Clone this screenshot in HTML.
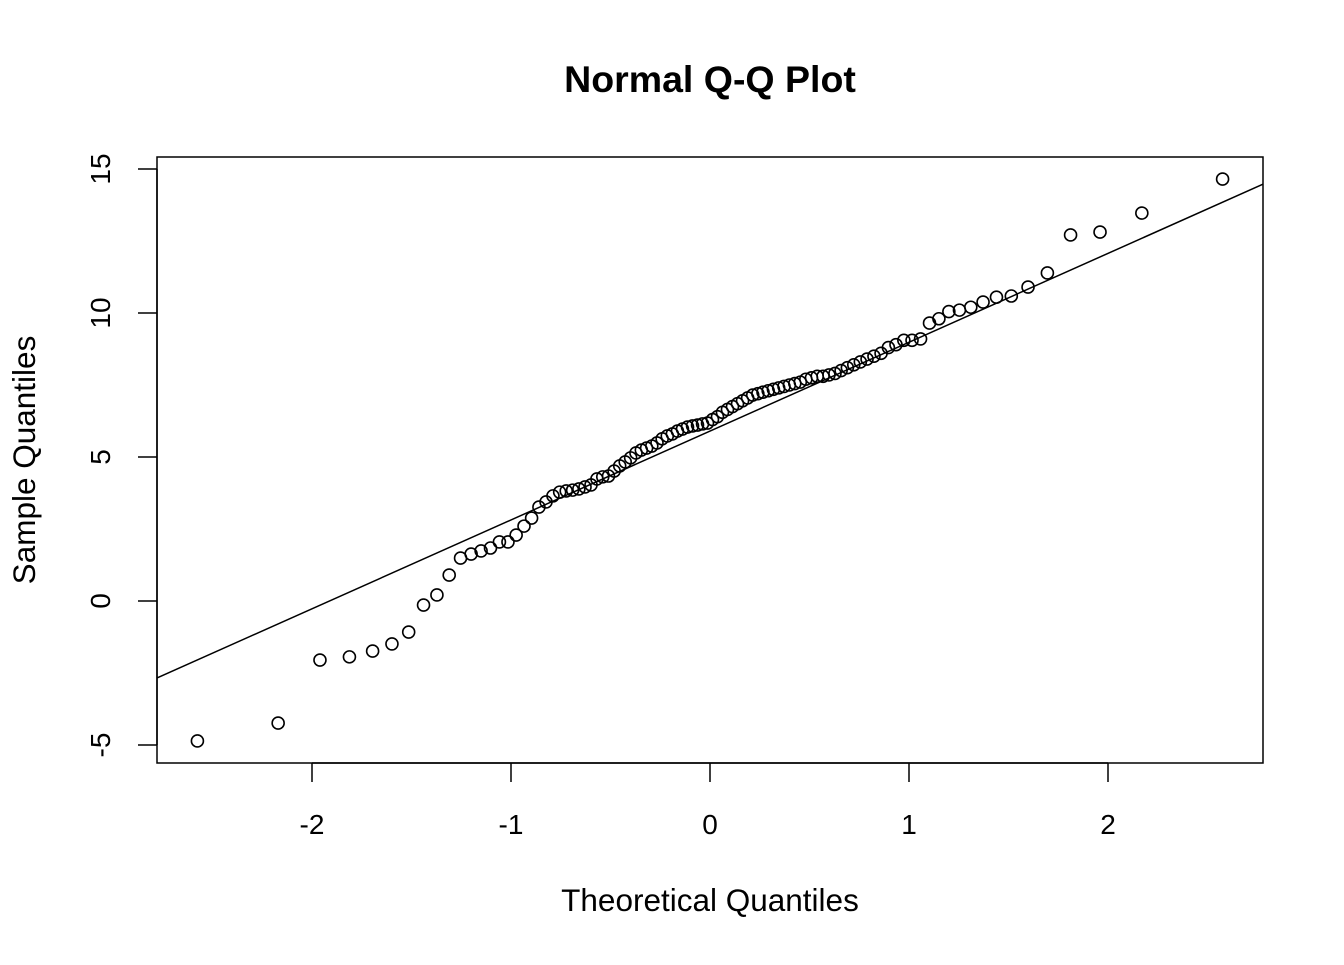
<!DOCTYPE html>
<html><head><meta charset="utf-8"><style>
html,body{margin:0;padding:0;background:#fff;}
svg text{font-family:"Liberation Sans",Arial,sans-serif;fill:#000;}
</style></head><body>
<svg id="chart" width="1344" height="960" viewBox="0 0 1344 960" xmlns="http://www.w3.org/2000/svg">
<text x="710" y="92" text-anchor="middle" font-size="37.5" font-weight="bold">Normal Q-Q Plot</text>
<text x="710" y="911" text-anchor="middle" font-size="31.5">Theoretical Quantiles</text>
<text x="0" y="0" transform="translate(35,460) rotate(-90)" text-anchor="middle" font-size="31.5">Sample Quantiles</text>
<rect x="157" y="157" width="1106" height="606" fill="none" stroke="#000" stroke-width="1.5"/>
<g id="xaxis"></g>
<g id="yaxis"></g>
<g id="marks"></g>
</svg>
<script>
const sampleValues=[-4.86,-4.24,-2.05,-1.94,-1.74,-1.49,-1.08,-0.14,0.21,0.90,
1.49,1.63,1.74,1.84,2.05,2.05,2.29,2.60,2.88,3.26,
3.44,3.65,3.78,3.82,3.85,3.89,3.96,4.03,4.24,4.31,
4.34,4.51,4.69,4.83,4.97,5.14,5.24,5.31,5.38,5.49,
5.63,5.73,5.80,5.90,5.97,6.04,6.08,6.11,6.15,6.18,
6.30,6.40,6.55,6.65,6.75,6.85,6.95,7.05,7.15,7.20,
7.25,7.30,7.35,7.40,7.45,7.50,7.55,7.60,7.70,7.75,
7.80,7.80,7.85,7.90,8.00,8.10,8.20,8.30,8.40,8.50,
8.60,8.80,8.90,9.05,9.05,9.10,9.65,9.80,10.05,10.10,
10.20,10.38,10.55,10.59,10.90,11.39,12.71,12.81,13.47,14.65];
const xTicks=[-2,-1,0,1,2];
const yTicks=[-5,0,5,10,15];
const lineIntercept=5.9;
const lineSlope=3.085;
const NS="http://www.w3.org/2000/svg";
const X=v=>710+199*v;
const Y=v=>601-28.8*v;
function qnorm(p){
 const a=[-3.969683028665376e+01,2.209460984245205e+02,-2.759285104469687e+02,1.383577518672690e+02,-3.066479806614716e+01,2.506628277459239e+00];
 const b=[-5.447609879822406e+01,1.615858368580409e+02,-1.556989798598866e+02,6.680131188771972e+01,-1.328068155288572e+01];
 const c=[-7.784894002430293e-03,-3.223964580411365e-01,-2.400758277161838e+00,-2.549732539343734e+00,4.374664141464968e+00,2.938163982698783e+00];
 const d=[7.784695709041462e-03,3.224671290700398e-01,2.445134137142996e+00,3.754408661907416e+00];
 const pl=0.02425;let q,r;
 if(p<pl){q=Math.sqrt(-2*Math.log(p));return (((((c[0]*q+c[1])*q+c[2])*q+c[3])*q+c[4])*q+c[5])/((((d[0]*q+d[1])*q+d[2])*q+d[3])*q+1);}
 if(p>1-pl){q=Math.sqrt(-2*Math.log(1-p));return -(((((c[0]*q+c[1])*q+c[2])*q+c[3])*q+c[4])*q+c[5])/((((d[0]*q+d[1])*q+d[2])*q+d[3])*q+1);}
 q=p-0.5;r=q*q;return (((((a[0]*r+a[1])*r+a[2])*r+a[3])*r+a[4])*r+a[5])*q/(((((b[0]*r+b[1])*r+b[2])*r+b[3])*r+b[4])*r+1);
}
function mk(tag,attrs,parent){const e=document.createElementNS(NS,tag);for(const k in attrs)e.setAttribute(k,attrs[k]);parent.appendChild(e);return e;}
const xa=document.getElementById('xaxis'),ya=document.getElementById('yaxis'),mg=document.getElementById('marks');
mk('line',{x1:X(xTicks[0]),x2:X(xTicks[xTicks.length-1]),y1:763,y2:763,stroke:'#000','stroke-width':1.5},xa);
xTicks.forEach(t=>{
 const l=mk('line',{x1:X(t),x2:X(t),y1:763,y2:782,stroke:'#000','stroke-width':1.5},xa);
 
 
 const tx=mk('text',{x:X(t),y:834,'text-anchor':'middle','font-size':28},xa);
 tx.textContent=String(t);
 
 
});
mk('line',{x1:157,x2:157,y1:Y(yTicks[0]),y2:Y(yTicks[yTicks.length-1]),stroke:'#000','stroke-width':1.5},ya);
yTicks.forEach(t=>{
 const l=mk('line',{x1:138,x2:157,y1:Y(t),y2:Y(t),stroke:'#000','stroke-width':1.5},ya);
 
 
 const tx=mk('text',{x:0,y:0,transform:'translate(110,'+Y(t)+') rotate(-90)','text-anchor':'middle','font-size':28},ya);
 tx.textContent=String(t);
 
 
});
const x0=-2.78,x1=2.78;
const ql=mk('line',{x1:X(x0),y1:Y(lineIntercept+lineSlope*x0),x2:X(x1),y2:Y(lineIntercept+lineSlope*x1),stroke:'#000','stroke-width':1.5},mg);


const n=sampleValues.length;
const sorted=sampleValues.slice().sort((a,b)=>a-b);
const aa=n<=10?3/8:0.5;
sorted.forEach((v,i)=>{
 const tq=qnorm((i+1-aa)/(n+1-2*aa));
 const c=mk('circle',{cx:X(tq),cy:Y(v),r:6,fill:'none',stroke:'#000','stroke-width':1.6},mg);
 
 
});
</script>
</body></html>
